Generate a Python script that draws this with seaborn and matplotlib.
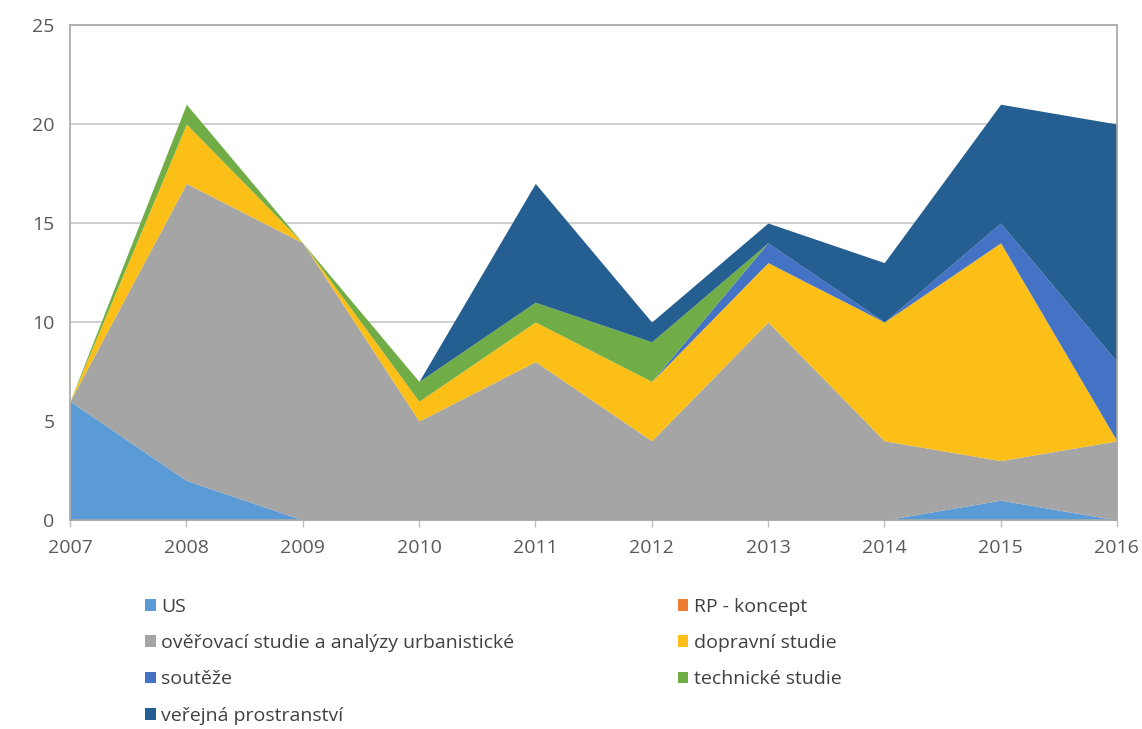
import matplotlib
matplotlib.use("Agg")
import matplotlib.pyplot as plt
import seaborn as sns
import pandas as pd
from matplotlib.patches import Patch

years = [2007, 2008, 2009, 2010, 2011, 2012, 2013, 2014, 2015, 2016]

us = [6, 2, 0, 0, 0, 0, 0, 0, 1, 0]
rp_koncept = [0, 0, 0, 0, 0, 0, 0, 0, 0, 0]
overovaci = [0, 15, 14, 5, 8, 4, 10, 4, 2, 4]
dopravni = [0, 3, 0, 1, 2, 3, 3, 6, 11, 0]
souteze = [0, 0, 0, 0, 0, 0, 1, 0, 1, 4]
technicke = [0, 1, 0, 1, 1, 2, 0, 0, 0, 0]
verejna = [0, 0, 0, 0, 6, 1, 1, 3, 6, 12]

labels = ["US", "RP - koncept", "ověřovací studie a analýzy urbanistické",
          "dopravní studie", "soutěže", "technické studie", "veřejná prostranství"]
colors = ["#5B9BD5", "#ED7D31", "#A5A5A5", "#FBBF18", "#4472C4", "#70AD47", "#255E91"]

df = pd.DataFrame({
    "rok": years,
    labels[0]: us, labels[1]: rp_koncept, labels[2]: overovaci,
    labels[3]: dopravni, labels[4]: souteze, labels[5]: technicke,
    labels[6]: verejna,
})

sns.set_theme(style="white")
plt.rcParams["font.family"] = ["Open Sans", "DejaVu Sans"]

fig = plt.figure(figsize=(11.42, 7.29), dpi=100)
ax = fig.add_axes([0.0613, 0.2867, 0.9167, 0.679])

palette = sns.color_palette(colors)
ax.stackplot(df["rok"], [df[l] for l in labels], colors=palette, linewidth=0)

ax.set_xlim(2007, 2016)
ax.set_ylim(0, 25)
ax.set_xticks(years)
ax.set_yticks([0, 5, 10, 15, 20, 25])
ax.yaxis.grid(True, color="#C8C8C8", linewidth=1.2)
ax.set_axisbelow(True)
for s in ax.spines.values():
    s.set_visible(True)
    s.set_color("#A6A6A6")
    s.set_linewidth(1.2)

ax.tick_params(axis="x", which="major", bottom=True, length=5, width=1,
               color="#BFBFBF", labelsize=14, labelcolor="#595959", pad=9)
ax.tick_params(axis="y", left=False, length=0, labelsize=14,
               labelcolor="#595959", pad=11)

order = [0, 2, 4, 6, 1, 3, 5]
handles = [Patch(facecolor=colors[i], edgecolor="none") for i in order]
fig.legend(handles, [labels[i] for i in order], ncol=2,
           loc="upper left", bbox_to_anchor=(0.120, 0.191),
           frameon=False, fontsize=14, labelcolor="#404040",
           handlelength=0.55, handleheight=0.55, handletextpad=0.3,
           columnspacing=8.4, labelspacing=0.95, borderaxespad=0)

fig.savefig("out.png", dpi=100, facecolor="white")
